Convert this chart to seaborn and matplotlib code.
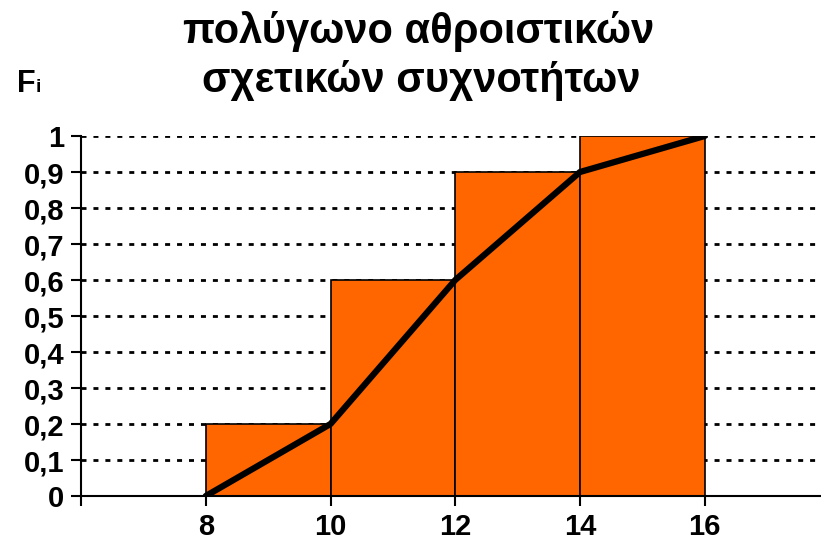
import matplotlib
matplotlib.use("Agg")
import matplotlib.pyplot as plt
import seaborn as sns
import numpy as np

sns.set_style("white")
plt.rcParams['font.family'] = ['Liberation Sans', 'DejaVu Sans']
plt.rcParams['text.color'] = 'black'
plt.rcParams['xtick.color'] = 'black'
plt.rcParams['ytick.color'] = 'black'
plt.rcParams['axes.labelcolor'] = 'black'

bin_edges = [8, 10, 12, 14, 16]
class_mid = [9, 11, 13, 15]
cum_rel_freq = [0.2, 0.6, 0.9, 1.0]
poly_x = [8, 10, 12, 14, 16]
poly_y = [0, 0.2, 0.6, 0.9, 1.0]
y_ticks = [0, 0.1, 0.2, 0.3, 0.4, 0.5, 0.6, 0.7, 0.8, 0.9, 1.0]
y_labels = ["0", "0,1", "0,2", "0,3", "0,4", "0,5", "0,6", "0,7", "0,8", "0,9", "1"]
x_ticks = [6, 8, 10, 12, 14, 16]
x_labels = ["", "8", "10", "12", "14", "16"]

fig = plt.figure(figsize=(8.21, 5.4), dpi=100)
ax = fig.add_axes([81/821, 1-496/540, 1-81/821, 360/540])

for yv in y_ticks[1:]:
    ax.axhline(yv, color="black", lw=2, ls=(0, (1.8, 2.5)), zorder=0)

sns.histplot(x=class_mid, weights=cum_rel_freq, bins=bin_edges, ax=ax,
             color="#FF6600", alpha=1, edgecolor="black", linewidth=1.2, zorder=2)
sns.lineplot(x=poly_x, y=poly_y, ax=ax, color="black", lw=4.5, zorder=3)

ax.set_xlim(6, 6 + 740/62.375)
ax.set_ylim(0, 1)
ax.set_yticks(y_ticks)
ax.set_yticklabels(y_labels, fontsize=21, fontweight="bold", color="black")
ax.set_xticks(x_ticks)
ax.set_xticklabels(x_labels, fontsize=21, fontweight="bold", color="black")
ax.tick_params(axis="both", direction="out", length=7, width=1.5, color="black",
               labelcolor="black", left=True, bottom=True, pad=5)
ax.set_xlabel("")
ax.set_ylabel("")
for s in ["top", "right"]:
    ax.spines[s].set_visible(False)
for s in ["left", "bottom"]:
    ax.spines[s].set_color("black")
    ax.spines[s].set_linewidth(1.5)

fig.text(419/821, 1-43/540, "πολύγωνο αθροιστικών", ha="center", va="baseline",
         fontsize=30, fontweight="bold", color="black")
fig.text(421/821, 1-92/540, "σχετικών συχνοτήτων", ha="center", va="baseline",
         fontsize=30, fontweight="bold", color="black")
fig.text(17/821, 1-92/540, "F", ha="left", va="baseline", fontsize=22,
         fontweight="bold", color="black")
fig.text(36/821, 1-92/540, "i", ha="left", va="baseline", fontsize=14,
         fontweight="bold", color="black")

fig.savefig("out.png", dpi=100)
